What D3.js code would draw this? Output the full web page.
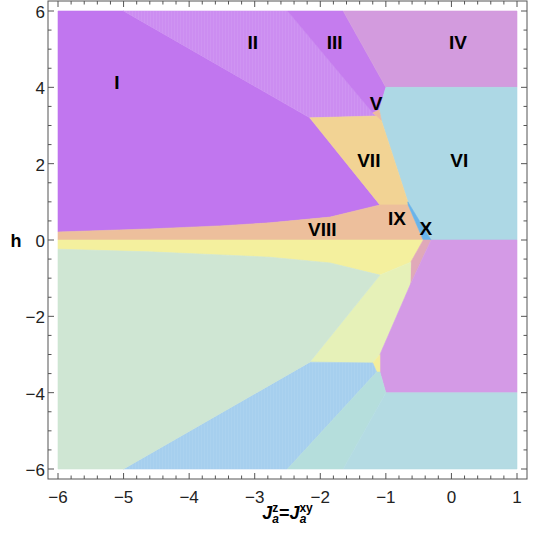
<!DOCTYPE html>
<html lang="en">
<head>
  <meta charset="UTF-8">
  <title>Phase diagram h vs J</title>
  <style>
    html, body { margin: 0; padding: 0; background: #fff; }
    svg { display: block; font-family: "Liberation Sans", Arial, sans-serif; }
  </style>
</head>
<body>
  <svg id="svg" width="540" height="536"></svg>

  <script src="https://cdn.jsdelivr.net/npm/d3@7"></script>
  <script>
    // boundary curves between the big regions at small |h|
    const upperCurve = [[-6, 0.21], [-4.6, 0.29], [-3.53, 0.37], [-2.77, 0.45], [-1.85, 0.60], [-1.09, 0.92]];
    const lowerCurve = [[-6, -0.24], [-4.6, -0.31], [-3.53, -0.39], [-2.77, -0.45], [-1.85, -0.60], [-1.09, -0.92]];

    // phase regions, vertices as [J, h]
    const regI = [[-6, 6], [-5, 6], [-2.16, 3.2], ...upperCurve.slice().reverse()];
    const regII = [[-5, 6], [-2.5, 6], [-1.2, 3.33], [-1.14, 3.25], [-2.16, 3.2]];
    const regIII = [[-2.5, 6], [-1.65, 6], [-1, 4], [-1.1, 3.41], [-1.2, 3.33]];
    const regIV = [[-1.65, 6], [1, 6], [1, 4], [-1, 4]];
    const regV = [[-1.2, 3.33], [-1.1, 3.41], [-1.07, 3.14], [-1.14, 3.25]];
    const regVI = [[-1, 4], [1, 4], [1, 0], [-0.31, 0], [-0.665, 1.0], [-1.07, 3.14], [-1.1, 3.41]];
    const regVII = [[-2.16, 3.2], [-1.14, 3.25], [-1.07, 3.14], [-0.665, 1.0], [-0.66, 0.92], [-1.09, 0.92]];
    const regVIII = [...upperCurve, [-0.66, 0.92], [-0.43, 0], [-6, 0]];
    const regX = [[-0.665, 1.0], [-0.31, 0], [-0.43, 0], [-0.66, 0.92]];

    const regYellow = [[-6, 0], [-0.43, 0], [-0.62, -0.58], ...lowerCurve.slice().reverse()];
    const regPink = [[-0.43, 0], [-0.31, 0], [-0.63, -1.18], [-0.62, -0.58]];
    const regLime = [[-1.09, -0.92], [-0.62, -0.58], [-0.63, -1.18], [-1.09, -3.0], [-1.2, -3.22], [-2.16, -3.2]];
    const regMauve = [[-0.31, 0], [1, 0], [1, -4], [-1, -4], [-1.09, -3.46], [-1.09, -3.0], [-0.63, -1.18]];
    const regSliver = [[-1.2, -3.22], [-1.09, -3.0], [-1.09, -3.46], [-1.14, -3.46]];
    const regSky = [[-2.16, -3.2], [-1.2, -3.22], [-1.14, -3.46], [-2.5, -6], [-5, -6]];
    const regTeal = [[-1.14, -3.46], [-1.09, -3.46], [-1, -4], [-1.65, -6], [-2.5, -6]];
    const regIce = [[-1, -4], [1, -4], [1, -6], [-1.65, -6]];
    const regGreen = [...lowerCurve, [-2.16, -3.2], [-5, -6], [-6, -6]];

    const labelNames = ['I', 'II', 'III', 'IV', 'V', 'VI', 'VII', 'VIII', 'IX', 'X'];
    const labelPos = [[-5.1, 4.14], [-3.03, 5.19], [-1.78, 5.19], [0.1, 5.19], [-1.15, 3.59],
                      [0.12, 2.1], [-1.26, 2.1], [-1.97, 0.29], [-0.83, 0.58], [-0.39, 0.31]];

    const xTicks = [-6, -5, -4, -3, -2, -1, 0, 1];
    const yTicks = [-6, -4, -2, 0, 2, 4, 6];

    const regions = [
      { pts: regI, fill: '#c176ef' },
      { pts: regII, fill: '#cc8df1', stripes: true },
      { pts: regIII, fill: '#c57cee' },
      { pts: regIV, fill: '#d39bde' },
      { pts: regVI, fill: '#add8e5' },
      { pts: regVII, fill: '#f2d394' },
      { pts: regVIII, fill: '#edbf9c' },
      { pts: regV, fill: '#edbb9d' },
      { pts: regX, fill: '#6ab4ea' },
      { pts: regYellow, fill: '#f4f09e' },
      { pts: regPink, fill: '#e0a9b9' },
      { pts: regLime, fill: '#e6f1b8' },
      { pts: regMauve, fill: '#d49ae6' },
      { pts: regSliver, fill: '#f3ee9c' },
      { pts: regSky, fill: '#a6cfee', stripes: true },
      { pts: regTeal, fill: '#b5dedc' },
      { pts: regIce, fill: '#b4dbe3' },
      { pts: regGreen, fill: '#cfe6d3' }
    ];

    const svg = d3.select('#svg');
    const frame = { left: 48, right: 527, top: 1, bottom: 479 };

    const x = d3.scaleLinear().domain([-6, 1]).range([58, 517]);
    const y = d3.scaleLinear().domain([-6, 6]).range([469, 11]);

    const defs = svg.append('defs');
    const pat = defs.append('pattern')
      .attr('id', 'stripes')
      .attr('patternUnits', 'userSpaceOnUse')
      .attr('width', 3).attr('height', 10);
    pat.append('rect').attr('width', 1).attr('height', 10).attr('fill', 'rgba(255,255,255,0.06)');

    const line = d3.line().x(d => x(d[0])).y(d => y(d[1]));

    // regions
    const g = svg.append('g');
    regions.forEach(r => {
      g.append('path')
        .attr('d', line(r.pts) + 'Z')
        .attr('fill', r.fill)
        .attr('stroke', r.fill)
        .attr('stroke-width', 0.6)
        .attr('stroke-linejoin', 'round');
      if (r.stripes) {
        g.append('path').attr('d', line(r.pts) + 'Z').attr('fill', 'url(#stripes)');
      }
    });

    // region labels
    svg.append('g')
      .selectAll('text')
      .data(labelNames)
      .enter()
      .append('text')
      .attr('x', (d, i) => x(labelPos[i][0]))
      .attr('y', (d, i) => y(labelPos[i][1]))
      .attr('dy', '0.36em')
      .attr('text-anchor', 'middle')
      .style('font-size', '19px')
      .style('font-weight', 'bold')
      .attr('fill', '#000')
      .text(d => d);

    // frame
    const axisColor = '#555';
    svg.append('rect')
      .attr('x', frame.left).attr('y', frame.top)
      .attr('width', frame.right - frame.left)
      .attr('height', frame.bottom - frame.top)
      .attr('fill', 'none')
      .attr('stroke', axisColor)
      .attr('stroke-width', 1);

    // ticks pointing inward on all four sides
    const xMinor = d3.range(-6, 1.0001, 0.2).filter(v => Math.abs(v - Math.round(v)) > 1e-6);
    const yMinor = d3.range(-6, 6.0001, 0.5).filter(v => Math.abs(v / 2 - Math.round(v / 2)) > 1e-6);
    const tg = svg.append('g').attr('stroke', axisColor).attr('stroke-width', 1);
    const tick = (x1, y1, x2, y2) => tg.append('line')
      .attr('x1', x1).attr('y1', y1).attr('x2', x2).attr('y2', y2);

    xTicks.forEach(v => { tick(x(v), frame.bottom, x(v), frame.bottom - 6); tick(x(v), frame.top, x(v), frame.top + 6); });
    xMinor.forEach(v => { tick(x(v), frame.bottom, x(v), frame.bottom - 3.5); tick(x(v), frame.top, x(v), frame.top + 3.5); });
    yTicks.forEach(v => { tick(frame.left, y(v), frame.left + 6, y(v)); tick(frame.right, y(v), frame.right - 6, y(v)); });
    yMinor.forEach(v => { tick(frame.left, y(v), frame.left + 3.5, y(v)); tick(frame.right, y(v), frame.right - 3.5, y(v)); });

    const fmt = v => (v < 0 ? '\u2212' : '') + Math.abs(v);

    svg.append('g')
      .selectAll('text')
      .data(xTicks)
      .enter()
      .append('text')
      .attr('x', d => x(d))
      .attr('y', frame.bottom + 24)
      .attr('text-anchor', 'middle')
      .style('font-size', '17px')
      .attr('fill', '#222')
      .text(fmt);

    svg.append('g')
      .selectAll('text')
      .data(yTicks)
      .enter()
      .append('text')
      .attr('x', frame.left - 3)
      .attr('y', d => y(d))
      .attr('dy', '0.42em')
      .attr('text-anchor', 'end')
      .style('font-size', '17px')
      .attr('fill', '#222')
      .text(fmt);

    // axis labels
    svg.append('text')
      .attr('x', 16)
      .attr('y', y(0))
      .attr('dy', '0.4em')
      .attr('text-anchor', 'middle')
      .style('font-size', '18px')
      .style('font-weight', 'bold')
      .text('h');

    const xl = svg.append('text')
      .attr('x', (frame.left + frame.right) / 2)
      .attr('y', 519)
      .attr('text-anchor', 'middle')
      .style('font-size', '18px')
      .style('font-weight', 'bold');
    xl.append('tspan').style('font-style', 'italic').text('J');
    xl.append('tspan').style('font-size', '12px').attr('dy', -7).text('z');
    xl.append('tspan').style('font-size', '12px').style('font-style', 'italic').attr('dx', -6).attr('dy', 11).text('a');
    xl.append('tspan').attr('dy', -4).text('=');
    xl.append('tspan').style('font-style', 'italic').text('J');
    xl.append('tspan').style('font-size', '12px').attr('dy', -7).text('xy');
    xl.append('tspan').style('font-size', '12px').style('font-style', 'italic').attr('dx', -13).attr('dy', 11).text('a');
  </script>
</body>
</html>
